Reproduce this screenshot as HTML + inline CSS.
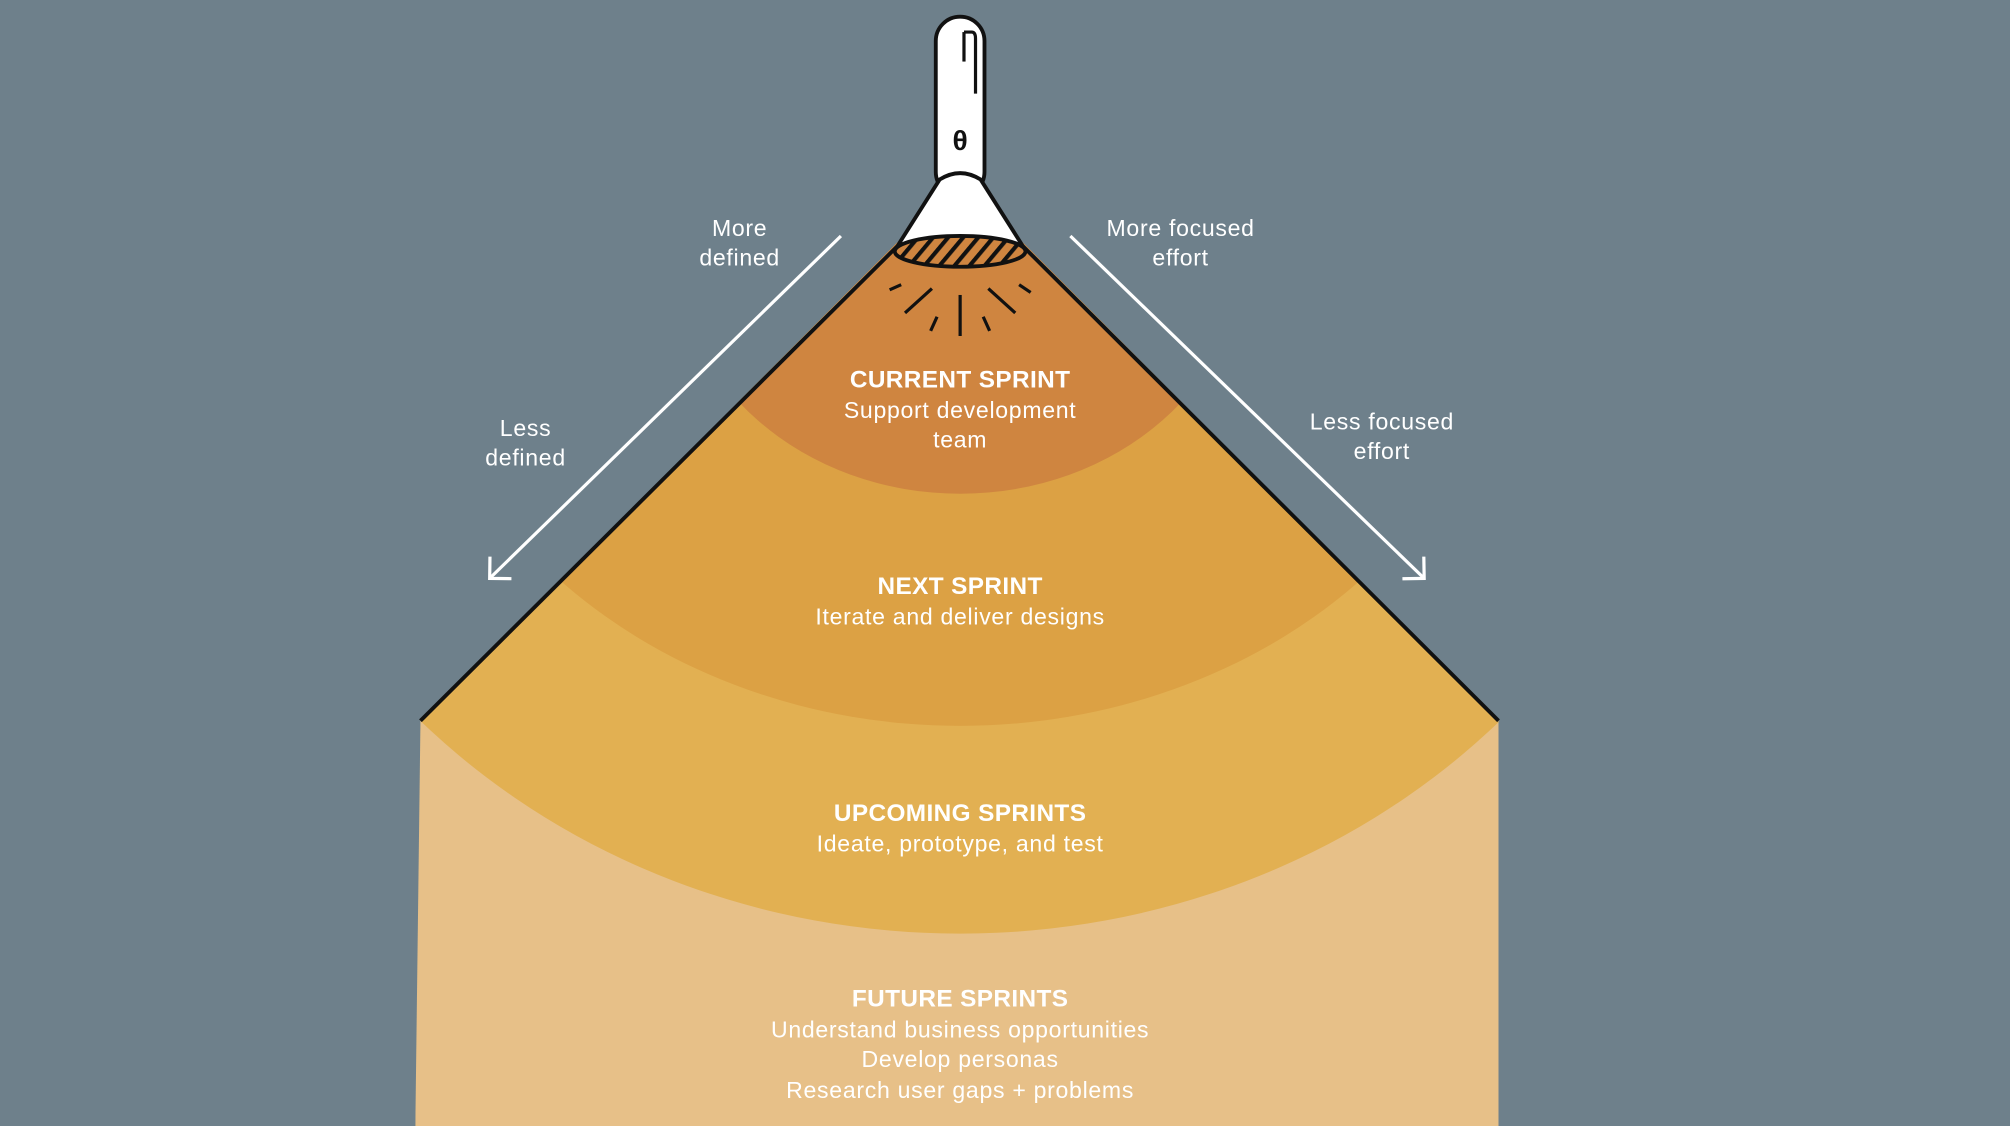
<!DOCTYPE html>
<html><head><meta charset="utf-8"><style>
html,body{margin:0;padding:0;background:#6e808b;}
svg{display:block;}
text{font-family:"Liberation Sans",sans-serif;fill:#fff;text-anchor:middle;}
.t{font-weight:bold;font-size:19px;letter-spacing:0.3px;}
.s{font-size:18px;letter-spacing:0.55px;}
.l{font-size:18px;letter-spacing:0.55px;}
</style></head><body>
<svg width="2010" height="1126" viewBox="0 0 1568 878" preserveAspectRatio="none" xmlns="http://www.w3.org/2000/svg">
<defs>
<clipPath id="cone"><polygon points="749,140 1169,562 1169,878 324,878 328,562"/></clipPath>
<pattern id="hatch" width="9" height="9" patternUnits="userSpaceOnUse" patternTransform="rotate(40)">
<rect width="9" height="9" fill="#cf8540"/><rect width="3.2" height="9" fill="#111"/></pattern>
<marker id="ah" markerWidth="28" markerHeight="28" refX="13" refY="13" orient="auto" markerUnits="userSpaceOnUse">
<path d="M1,1 L13,13 L1,25" fill="none" stroke="#fff" stroke-width="2.5"/></marker>
</defs>
<rect width="1568" height="878" fill="#6e808b"/>
<g clip-path="url(#cone)">
<rect x="300" y="100" width="900" height="800" fill="#e7c088"/>
<ellipse cx="749" cy="190" rx="583" ry="538" fill="#e2b052"/>
<ellipse cx="749" cy="190" rx="436" ry="376" fill="#dca144"/>
<ellipse cx="749" cy="190" rx="223" ry="195" fill="#cf8540"/>
</g>
<polyline points="328,562 700,192" fill="none" stroke="#111" stroke-width="3"/>
<polyline points="798,192 1169,562" fill="none" stroke="#111" stroke-width="3"/>
<rect x="730" y="13" width="38" height="140" rx="19" fill="#fff" stroke="#111" stroke-width="3"/>
<path d="M752,25 L758,25 Q761,25 761,30 L761,73" fill="none" stroke="#111" stroke-width="2.5"/>
<line x1="752" y1="25" x2="752" y2="48" stroke="#111" stroke-width="2.5"/>
<text x="749" y="117" style="font-size:22px;font-weight:bold;fill:#111">θ</text>
<path d="M733,140 Q749,130 765,140 L798,192 Q749,182 700,192 Z" fill="#fff" stroke="#111" stroke-width="3" stroke-linejoin="round"/>
<ellipse cx="749" cy="196" rx="51" ry="12" fill="url(#hatch)" stroke="#111" stroke-width="3"/>
<g stroke="#111" stroke-width="2.5">
<line x1="749" y1="230" x2="749" y2="262"/>
<line x1="727" y1="225" x2="706" y2="244"/>
<line x1="771" y1="225" x2="792" y2="244"/>
<line x1="703" y1="222" x2="694" y2="226"/>
<line x1="795" y1="222" x2="804" y2="228"/>
<line x1="731" y1="247" x2="726" y2="258"/>
<line x1="767" y1="247" x2="772" y2="258"/>
</g>
<line x1="656" y1="184" x2="382" y2="451" stroke="#fff" stroke-width="2.5" marker-end="url(#ah)"/>
<line x1="835" y1="184" x2="1111" y2="451" stroke="#fff" stroke-width="2.5" marker-end="url(#ah)"/>
<text class="l" x="577" y="184">More</text><text class="l" x="577" y="207">defined</text>
<text class="l" x="410" y="340">Less</text><text class="l" x="410" y="363">defined</text>
<text class="l" x="921" y="184">More focused</text><text class="l" x="921" y="207">effort</text>
<text class="l" x="1078" y="335">Less focused</text><text class="l" x="1078" y="358">effort</text>
<text class="t" x="749" y="302">CURRENT SPRINT</text>
<text class="s" x="749" y="326">Support development</text>
<text class="s" x="749" y="349">team</text>
<text class="t" x="749" y="463">NEXT SPRINT</text>
<text class="s" x="749" y="487">Iterate and deliver designs</text>
<text class="t" x="749" y="640">UPCOMING SPRINTS</text>
<text class="s" x="749" y="664">Ideate, prototype, and test</text>
<text class="t" x="749" y="785">FUTURE SPRINTS</text>
<text class="s" x="749" y="809">Understand business opportunities</text>
<text class="s" x="749" y="832">Develop personas</text>
<text class="s" x="749" y="856">Research user gaps + problems</text>
</svg>
</body></html>
